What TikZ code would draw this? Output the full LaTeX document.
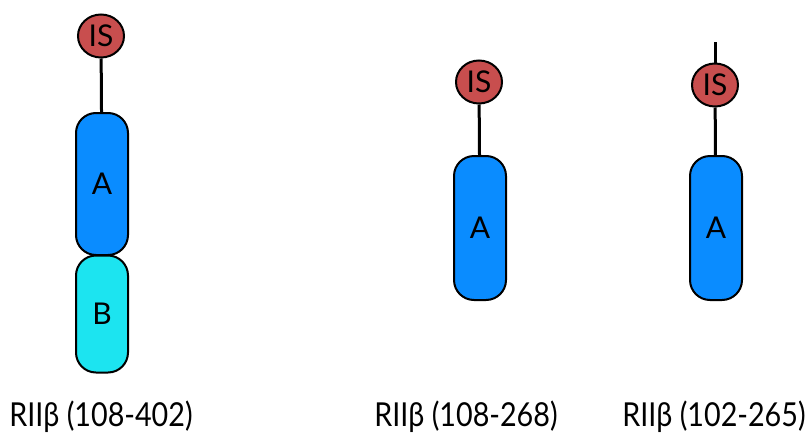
\documentclass[tikz,border=0pt]{standalone}
\usepackage{fontspec}
\setmainfont{Lato}[FakeStretch=0.87]
\newfontfamily\innerfont{Lato}
\usetikzlibrary{shapes.geometric}
\definecolor{isred}{RGB}{200,78,78}
\definecolor{dblue}{RGB}{10,140,255}
\definecolor{dcyan}{RGB}{28,228,240}
\tikzset{
  isnode/.style={ellipse, draw=black, line width=2pt, fill=isred, minimum width=46pt, minimum height=43pt, inner sep=0pt, font=\innerfont\fontsize{30}{30}\selectfont},
  dombox/.style={rectangle, rounded corners=20pt, draw=black, line width=2pt, minimum width=52pt, inner sep=0pt, font=\innerfont\fontsize{30}{30}\selectfont},
  linker/.style={line width=3pt, draw=black},
  lab/.style={anchor=base, font=\fontsize{33}{33}\selectfont}
}
\begin{document}
\begin{tikzpicture}[x=1pt,y=-1pt]
\useasboundingbox (0,0) rectangle (811,434);
% left
\node[isnode] (is1) at (101,36) {IS};
\node[dombox, fill=dblue, minimum height=142pt] (a1) at (102,184) {A};
\node[dombox, fill=dcyan, minimum height=117pt] (b1) at (102,314) {B};
\draw[linker] (is1) -- (a1);
\node[lab] (l1) at (101,426) {RIIβ (108-402)};
% middle
\node[isnode] (is2) at (479,82) {IS};
\node[dombox, fill=dblue, minimum height=144pt] (a2) at (480,228) {A};
\draw[linker] (is2) -- (a2);
\node[lab] (l2) at (466,426) {RIIβ (108-268)};
% right
\coordinate (t3) at (715,42);
\node[isnode] (is3) at (715,85) {IS};
\node[dombox, fill=dblue, minimum height=144pt] (a3) at (716,228) {A};
\draw[linker] (t3) -- (is3);
\draw[linker] (is3) -- (a3);
\node[lab] (l3) at (714,426) {RIIβ (102-265)};
\end{tikzpicture}
\end{document}
